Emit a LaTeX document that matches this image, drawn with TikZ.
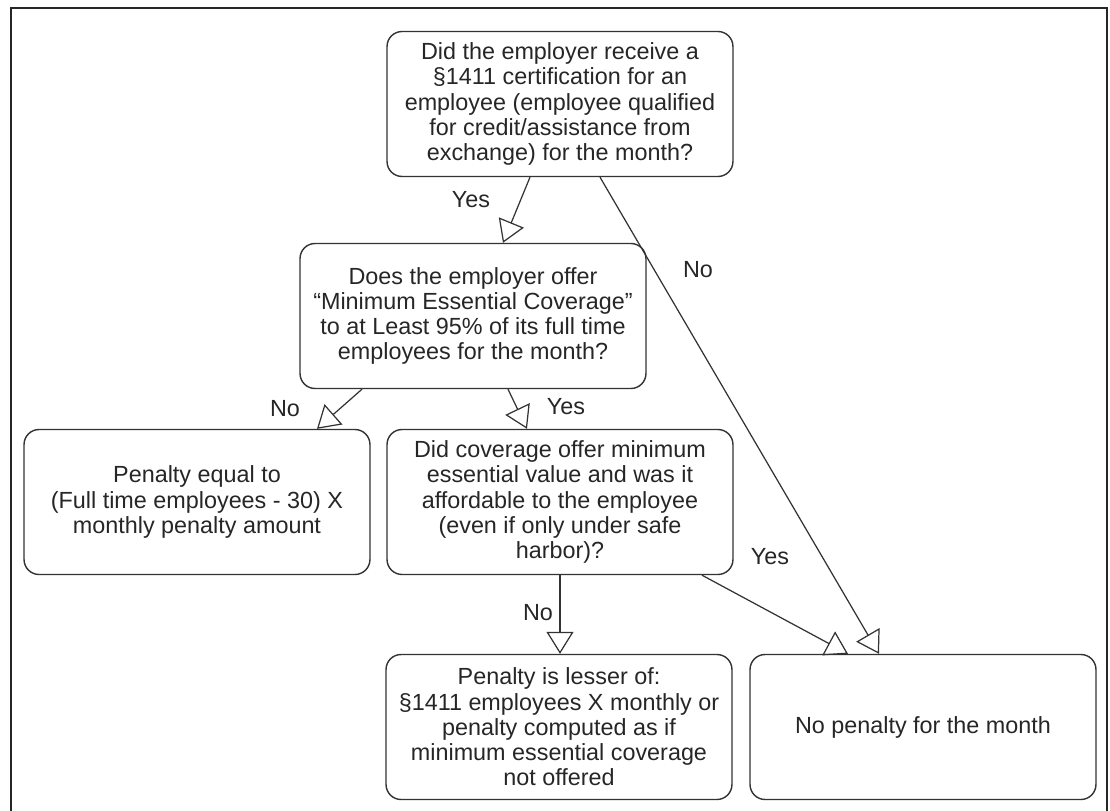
\documentclass[tikz,border=0pt]{standalone}
\usepackage{fontspec}
\setmainfont{Liberation Sans}
\usetikzlibrary{arrows.meta}
\usetikzlibrary{calc}

\tikzset{
    box/.style={draw=black!80, line width=0.8pt, rounded corners=0.3cm, align=center,
        minimum width=6.92cm, minimum height=2.9cm, inner sep=2pt, text=black!85,
        font=\fontsize{13.3}{14.4}\selectfont},
    flow/.style={draw=black!80, line width=0.7pt, -{Triangle[open, length=0.44cm, width=0.54cm]}},
    answer/.style={text=black!85, font=\fontsize{13.3}{14.4}\selectfont}
}

\begin{document}
\begin{tikzpicture}[x=0.02cm, y=-0.02cm]
        \useasboundingbox (0,0) rectangle (1110,811);
        \draw[line width=1.4pt, black!85] (11,811) -- (11,8) -- (1107,8) -- (1107,811);

        \node[box] (certify) at (560,104) {Did the employer receive a\\ §1411 certification for an\\ employee (employee qualified\\ for credit/assistance from\\ exchange) for the month?};
        \node[box] (offer) at (473,316) {Does the employer offer\\ “Minimum Essential Coverage”\\ to at Least 95\% of its full time\\ employees for the month?};
        \node[box] (fullpen) at (197,502) {Penalty equal to\\ (Full time employees - 30) X\\ monthly penalty amount};
        \node[box] (afford) at (560,502) {Did coverage offer minimum\\ essential value and was it\\ affordable to the employee\\ (even if only under safe\\ harbor)?};
        \node[box] (lesser) at (559,727) {Penalty is lesser of:\\ §1411 employees X monthly or\\ penalty computed as if\\ minimum essential coverage\\ not offered};
        \node[box] (nopen) at (923,727) {No penalty for the month};

        \draw[flow] ($(certify.south)+(-30,0)$) -- ($(offer.north)+(30,0)$);
        \draw[flow] ($(certify.south)+(40,0)$) -- ($(nopen.north)+(-44,0)$);
        \draw[flow] ($(offer.south)+(-111,0)$) -- ($(fullpen.north)+(120,0)$);
        \draw[flow] ($(offer.south)+(35,0)$) -- ($(afford.north)+(-33,0)$);
        \draw[flow] (afford.south) -- (afford.south |- lesser.north);
        \draw[flow] ($(afford.south)+(142,0)$) -- ($(nopen.north)+(-75,0)$);

        \node[answer] (yes1) at (471,200) {Yes};
        \node[answer] (no1) at (698,270) {No};
        \node[answer] (no2) at (285,409) {No};
        \node[answer] (yes2) at (566,407) {Yes};
        \node[answer] (no3) at (538,613) {No};
        \node[answer] (yes3) at (770,557) {Yes};
    \end{tikzpicture}
\end{document}
